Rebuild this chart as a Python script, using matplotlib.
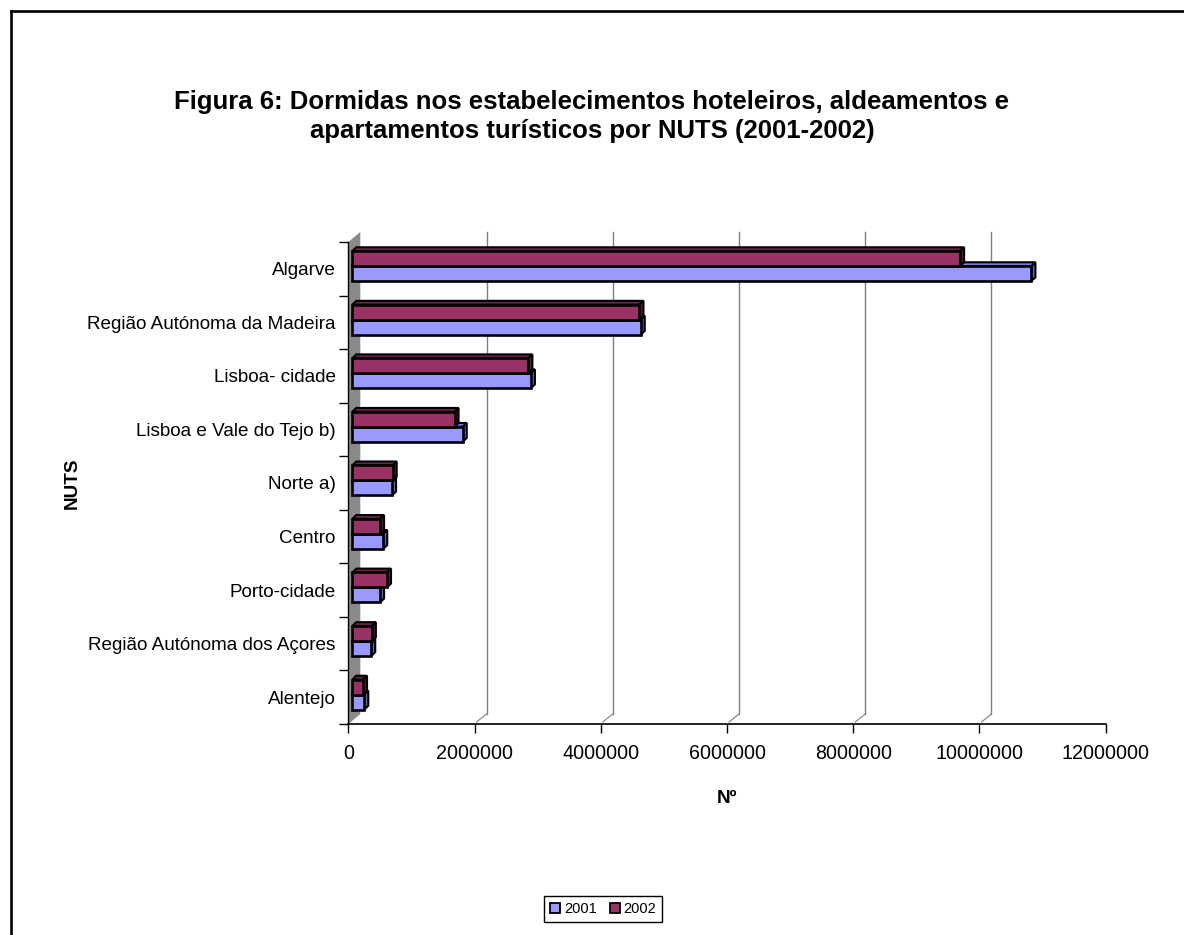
import matplotlib
matplotlib.use("Agg")
import matplotlib.pyplot as plt
from matplotlib.patches import Polygon, Patch
from matplotlib.lines import Line2D
import matplotlib.transforms as mtransforms

plt.rcParams['font.family'] = ['Liberation Sans', 'DejaVu Sans']

# Overnight stays by NUTS region
regions = ["Algarve", "Região Autónoma da Madeira", "Lisboa- cidade",
           "Lisboa e Vale do Tejo b)", "Norte a)", "Centro", "Porto-cidade",
           "Região Autónoma dos Açores", "Alentejo"]
stays_2001 = [10760000, 4570000, 2830000, 1750000, 630000, 490000, 440000, 300000, 190000]
stays_2002 = [9630000, 4550000, 2790000, 1620000, 640000, 440000, 550000, 310000, 170000]
xticks = [0, 2000000, 4000000, 6000000, 8000000, 10000000, 12000000]

title = ("Figura 6: Dormidas nos estabelecimentos hoteleiros, aldeamentos e\n"
         "apartamentos turísticos por NUTS (2001-2002)")

W, H = 1184, 935
fig = plt.figure(figsize=(W / 100, H / 100), dpi=100)

# front plane of the plot area, in pixels
left_px, right_px, top_px, bot_px = 348.3, 1105.7, 242, 724
ax = fig.add_axes([left_px / W, 1 - bot_px / H,
                   (right_px - left_px) / W, (bot_px - top_px) / H])
n = len(regions)
xmax = xticks[-1]
ax.set_xlim(0, xmax)
ax.set_ylim(n - 0.5, -0.5)

px_x = xmax / (right_px - left_px)     # data units per pixel, x
px_y = n / (bot_px - top_px)           # data units per pixel, y

# depth of the 3-D box and of each bar
wall_dx, wall_dy = 12 * px_x, 10 * px_y
bar_dx, bar_dy = 4 * px_x, 3.8 * px_y
face_shift = mtransforms.ScaledTranslation(4 / 100, 2.7 / 100, fig.dpi_scale_trans)
bar_tr = ax.transData + face_shift

# gray side wall
wall = Polygon([(0, n - 0.5), (0, -0.5), (wall_dx, -0.5 - wall_dy),
                (wall_dx, n - 0.5 - wall_dy)], closed=True,
               facecolor="#8a8a8a", edgecolor="none", zorder=1, clip_on=False)
ax.add_patch(wall)

# back-wall gridlines and floor diagonals
for xv in xticks[1:-1]:
    ax.plot([xv + wall_dx, xv + wall_dx], [-0.5 - wall_dy, n - 0.5 - wall_dy],
            color="#808080", lw=1.0, zorder=0.5, clip_on=False)
    ax.plot([xv + 2 * px_x, xv + wall_dx], [n - 0.5 - 2 * px_y, n - 0.5 - wall_dy],
            color="#808080", lw=0.8, zorder=0.5, clip_on=False)

bh = 15 * px_y
colors = {
    "2001": ("#9999ff", "#7a7ad6", "#6464b4"),
    "2002": ("#993366", "#6e2449", "#5a1d3c"),
}


def draw_bars(values, offset, key):
    face, top, side = colors[key]
    ys = [i + offset for i in range(n)]
    ax.barh(ys, values, height=bh, color=face, edgecolor="black",
            linewidth=1.9, transform=bar_tr, zorder=3, clip_on=False)
    for y, v in zip(ys, values):
        y0 = y - bh / 2
        y1 = y + bh / 2
        top_face = Polygon([(0, y0), (v, y0), (v + bar_dx, y0 - bar_dy),
                            (bar_dx, y0 - bar_dy)], closed=True,
                           facecolor=top, edgecolor="black", lw=1.5,
                           transform=bar_tr, zorder=2.9, clip_on=False)
        side_face = Polygon([(v, y0), (v + bar_dx, y0 - bar_dy),
                             (v + bar_dx, y1 - bar_dy), (v, y1)], closed=True,
                            facecolor=side, edgecolor="black", lw=1.5,
                            transform=bar_tr, zorder=2.9, clip_on=False)
        ax.add_patch(top_face)
        ax.add_patch(side_face)


draw_bars(stays_2001, bh / 2, "2001")
draw_bars(stays_2002, -bh / 2, "2002")

# axes, ticks and labels
for s in ["top", "right"]:
    ax.spines[s].set_visible(False)
ax.spines["left"].set_linewidth(1.0)
ax.spines["bottom"].set_linewidth(1.2)
ax.set_xticks(xticks)
ax.set_xticklabels([str(v) for v in xticks])
ax.set_yticks([i - 0.5 for i in range(n + 1)])
ax.set_yticklabels([])
ax.set_yticks(range(n), minor=True)
ax.set_yticklabels(regions, minor=True)
ax.tick_params(axis="x", length=6.5, width=1.0, pad=8, labelsize=14.2)
ax.tick_params(axis="y", which="major", length=6.5, width=1.0)
ax.tick_params(axis="y", which="minor", length=0, pad=9, labelsize=13.6)
ax.set_xlabel("Nº", fontsize=13.6, fontweight="bold", labelpad=19)
ax.set_ylabel("NUTS", fontsize=13.6, fontweight="bold", labelpad=5)
ax.patch.set_visible(False)

fig.text(592 / W, 1 - 116.5 / H, title, ha="center", va="center",
         fontsize=18.5, fontweight="bold", linespacing=1.22)

handles = [Patch(facecolor=colors["2001"][0], edgecolor="black", lw=1.3),
           Patch(facecolor=colors["2002"][0], edgecolor="black", lw=1.3)]
fig.legend(handles, ["2001", "2002"], loc="center",
           bbox_to_anchor=(603.3 / W, 1 - 909 / H), ncol=2, fontsize=10.5,
           frameon=True, fancybox=False, edgecolor="black", framealpha=1,
           handlelength=0.7, handleheight=0.7, handletextpad=0.25,
           columnspacing=0.9, borderpad=0.4, borderaxespad=0)

# outer chart frame
fig.add_artist(Line2D([11 / W, 11 / W], [0, 1 - 11 / H], color="black",
                      lw=1.9, transform=fig.transFigure))
fig.add_artist(Line2D([11 / W, 1], [1 - 11 / H, 1 - 11 / H], color="black",
                      lw=1.9, transform=fig.transFigure))

fig.savefig("out.png", dpi=100)
